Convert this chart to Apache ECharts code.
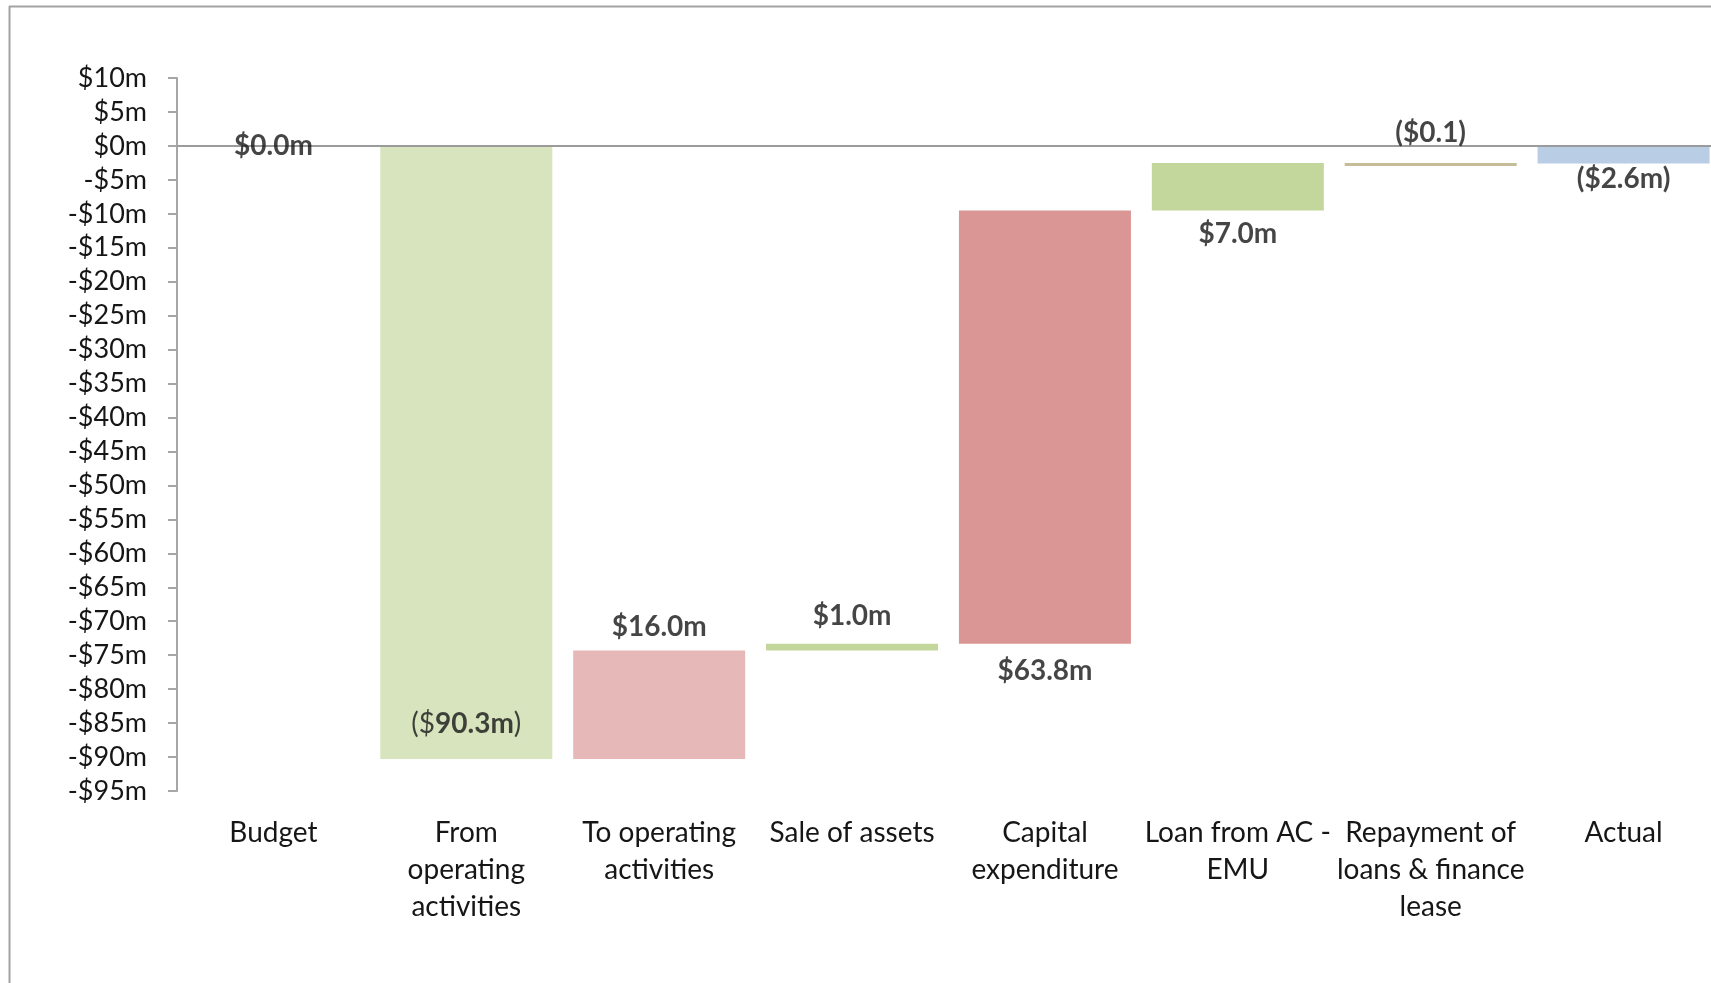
<!DOCTYPE html>
<html>
<head>
<meta charset="utf-8">
<title>Cash flow waterfall</title>
<script src="https://cdn.jsdelivr.net/npm/echarts@6/dist/echarts.min.js"></script>
<style>
  html, body { margin: 0; padding: 0; background: #fff; }
  #chart { width: 1711px; height: 983px; }
</style>
</head>
<body>
<div id="chart"></div>
<script>
// categories and values (in $m)
const categories = ['Budget', 'From\noperating\nactivities', 'To operating\nactivities', 'Sale of assets',
  'Capital\nexpenditure', 'Loan from AC -\nEMU', 'Repayment of\nloans & finance\nlease', 'Actual']
const steps = [0, -90.3, 16.0, 1.0, 63.8, 7.0, -0.1, -2.6]
const isTotal = [true, false, false, false, false, false, false, true]
const labelTexts = ['$0.0m', '{r|($}{b|90.3m}{r|)}', '$16.0m', '$1.0m', '$63.8m', '$7.0m', '($0.1)', '($2.6m)']
const barColors = ['#D7E4BD', '#D7E4BD', '#E6B9B8', '#C3D69B', '#D99694', '#C3D69B', '#C4BD97', '#B9CDE5']
const yMin = -95
const yMax = 10
const yStep = 5

// where each label sits: which end of the bar, which side, how far
const labelPlace = [
  { end: 'mid', pos: 'inside', dist: 0 },
  { end: 'low', pos: 'top', dist: 21 },
  { end: 'high', pos: 'top', dist: 9 },
  { end: 'high', pos: 'top', dist: 13 },
  { end: 'low', pos: 'bottom', dist: 13 },
  { end: 'low', pos: 'bottom', dist: 9 },
  { end: 'high', pos: 'top', dist: 15 },
  { end: 'low', pos: 'bottom', dist: 1 }
]

// waterfall: invisible base + visible delta
const baseData = []
const deltaData = []
const labelData = []
let running = 0
steps.forEach((v, i) => {
  let from, to
  if (isTotal[i]) {
    from = 0
    to = v
  } else {
    from = running
    to = running + v
  }
  running = to
  const hi = Math.max(from, to)
  const lo = Math.min(from, to)
  baseData.push(+hi.toFixed(2))
  const d = +(lo - hi).toFixed(2)
  deltaData.push(d === 0 ? '-' : { value: d, itemStyle: { color: barColors[i] } })
  const p = labelPlace[i]
  const anchor = p.end === 'mid' ? 0 : (p.end === 'low' ? lo : hi)
  labelData.push({
    value: [i, +anchor.toFixed(2)],
    label: { position: p.pos, distance: p.dist, formatter: labelTexts[i] }
  })
})

const font = 'Lato, "Open Sans", sans-serif'
const txt = '#161616'
const chartBox = echarts.init(document.getElementById('chart'))

const option = {
  backgroundColor: '#fff',
  animation: false,
  textStyle: { fontFamily: font },
  graphic: [
    { type: 'line', shape: { x1: 9.5, y1: 6, x2: 9.5, y2: 983 }, style: { stroke: '#A3A3A3', lineWidth: 2 } },
    { type: 'line', shape: { x1: 9, y1: 6.5, x2: 1711, y2: 6.5 }, style: { stroke: '#A3A3A3', lineWidth: 2 } }
  ],
  grid: { left: 177, width: 1543, top: 78, bottom: 192, containLabel: false, outerBoundsMode: 'none' },
  xAxis: {
    type: 'category',
    data: categories,
    axisLine: { show: false, onZero: false },
    axisTick: { show: false },
    axisLabel: {
      interval: 0,
      margin: 23,
      color: txt,
      fontSize: 28,
      lineHeight: 37,
      fontFamily: font
    }
  },
  yAxis: {
    type: 'value',
    min: yMin,
    max: yMax,
    interval: yStep,
    splitLine: { show: false },
    axisLine: { show: true, lineStyle: { color: '#A6A6A6', width: 2 } },
    axisTick: { show: true, length: 9, lineStyle: { color: '#A6A6A6', width: 2 } },
    axisLabel: {
      margin: 30,
      color: txt,
      fontSize: 27,
      fontFamily: font,
      formatter: function (v) {
        return (v < 0 ? '-' : '') + '$' + Math.abs(v) + 'm'
      }
    }
  },
  series: [
    {
      name: 'base',
      type: 'bar',
      stack: 'wf',
      barWidth: 172,
      itemStyle: { color: 'transparent' },
      data: baseData,
      silent: true
    },
    {
      name: 'delta',
      type: 'bar',
      stack: 'wf',
      barWidth: 172,
      barMinHeight: 3,
      data: deltaData,
      markLine: {
        silent: true,
        symbol: 'none',
        label: { show: false },
        lineStyle: { color: '#9B9B9B', width: 2, type: 'solid' },
        data: [{ yAxis: 0 }]
      }
    },
    {
      name: 'labels',
      type: 'scatter',
      symbolSize: 1,
      itemStyle: { color: 'transparent' },
      z: 5,
      label: {
        show: true,
        color: txt,
        fontSize: 28,
        fontWeight: 'bold',
        fontFamily: font,
        rich: {
          r: { fontSize: 28, fontWeight: 'normal', color: txt, fontFamily: font },
          b: { fontSize: 28, fontWeight: 'bold', color: txt, fontFamily: font }
        }
      },
      data: labelData
    }
  ]
}

chartBox.setOption(option, true)
window.addEventListener('resize', function () {
  chartBox.resize()
})
</script>
</body>
</html>
